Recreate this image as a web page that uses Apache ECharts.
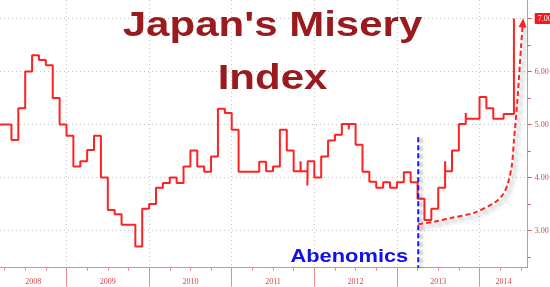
<!DOCTYPE html>
<html><head><meta charset="utf-8">
<script src="https://cdn.jsdelivr.net/npm/echarts@6/dist/echarts.min.js"></script>
<style>html,body{margin:0;padding:0;background:#fff}#c{width:550px;height:287px}</style>
</head><body><div id="c"></div>
<script>
// ---- data ----
const dates = ['2008-03','2008-05','2008-06','2008-07','2008-08','2008-09','2008-10','2008-11','2008-12',
'2009-01','2009-02','2009-03','2009-04','2009-05','2009-06','2009-07','2009-08','2009-09','2009-11','2009-12',
'2010-01','2010-02','2010-03','2010-04','2010-05','2010-06','2010-07','2010-08','2010-09','2010-10','2010-11','2010-12',
'2011-01','2011-02','2011-05','2011-06','2011-07','2011-08','2011-09','2011-10','2011-11','2011-11-02','2011-12','2011-12-02',
'2012-01','2012-02','2012-03','2012-04','2012-05','2012-06','2012-06-02','2012-07','2012-08','2012-09','2012-10','2012-11','2012-12',
'2013-01','2013-02','2013-03','2013-04','2013-05','2013-06','2013-07','2013-08','2013-08-02','2013-09','2013-10','2013-11','2013-11-02',
'2014-01','2014-02','2014-03','2014-04-16','2014-06'];
const values = [5.00,4.71,5.31,6.00,6.31,6.22,6.12,5.50,5.00,
4.79,4.21,4.31,4.52,4.79,4.00,3.39,3.31,3.11,2.70,3.41,
3.50,3.81,3.90,4.00,3.90,4.21,4.51,4.21,4.11,4.40,5.30,5.22,
4.90,4.11,4.30,4.12,4.21,4.90,4.51,4.12,4.31,4.12,3.85,4.31,
4.00,4.40,4.70,4.81,5.01,4.91,5.01,4.62,4.11,3.92,3.81,3.91,3.81,
3.91,4.10,3.91,3.60,3.20,3.41,3.81,4.31,4.12,4.51,5.01,5.22,5.11,
5.52,5.31,5.11,5.20,7.00];
const yearLabels = ['2008','2009','2010','2011','2012','2013','2014'];
const yTickValues = [3, 4, 5, 6, 7];
// hand-drawn annotation arrow (months since Jan 2008, index value)
const arrowMonths = [63.1, 65.5, 67.9, 71.3, 74.2, 75.4, 76.1, 76.7, 77.0, 77.5, 78.05, 78.3];
const arrowValues = [3.12, 3.17, 3.24, 3.34, 3.53, 3.68, 3.88, 4.23, 4.70, 5.46, 6.50, 6.92];
const abenomicsDate = '2013-04-04';
const abenomicsTop = 4.76;
const titleLines = ["Japan's Misery", 'Index'];

// ---- helpers ----
const BASE_YEAR = 2008;
function toM(s){ const p = s.split('-').map(Number); return (p[0]-BASE_YEAR)*12 + (p[1]-1) + (p[2] ? (p[2]-1)/30 : 0); }
const X_MIN = 2.34, X_MAX = 79, Y_MIN = 2.3, Y_MAX = 7.35;
const yearStarts = yearLabels.slice(1).map((y,i)=> (i+1)*12);
const yearLabelPos = yearLabels.map((y,i)=> (Math.max(i*12, X_MIN) + Math.min((i+1)*12, X_MAX))/2);
const quarterTicks = []; for (let q = 3; q < X_MAX; q += 3) if (q % 12 && q > X_MIN) quarterTicks.push(q);
const halfTicks = yTickValues.map(v => v - 0.5).filter(v => v > Y_MIN);
const abM = toM(abenomicsDate);

const RED = '#ff2222', AXIS = '#e68c8c', LBL = '#d4474b', GRIDC = '#c4c4c4';
const chart = echarts.init(document.getElementById('c'), null, {renderer:'canvas'});
const arrowData = arrowMonths.map((m,i)=> i === arrowMonths.length-1
  ? {value:[m, arrowValues[i]], symbol:'triangle', symbolSize:[8,9], symbolRotate:-5, itemStyle:{color:RED}}
  : [m, arrowValues[i]]);

chart.setOption({
  animation:false,
  backgroundColor:'#fff',
  grid:{left:0, right:22.3, top:0, bottom:19.3, containLabel:false, outerBoundsMode:'none'},
  xAxis:[{
    type:'value', min:X_MIN, max:X_MAX, position:'bottom',
    axisLine:{show:true, onZero:false, lineStyle:{color:AXIS, width:1}},
    axisTick:{show:true, customValues:yearStarts, length:19, lineStyle:{color:AXIS}},
    axisLabel:{show:true, customValues:yearLabelPos, formatter:v=> yearLabels[Math.floor(v/12)],
      color:LBL, fontFamily:'Liberation Serif', fontSize:8, margin:10},
    splitLine:{show:true, lineStyle:{color:GRIDC, type:[1,3], width:1}}
  },{
    type:'value', min:X_MIN, max:X_MAX, position:'bottom',
    axisLine:{show:false}, axisLabel:{show:false}, splitLine:{show:false},
    axisTick:{show:true, customValues:quarterTicks, length:3, lineStyle:{color:AXIS}}
  }],
  yAxis:[{
    type:'value', min:Y_MIN, max:Y_MAX, position:'right',
    axisLine:{show:true, lineStyle:{color:AXIS}},
    axisTick:{show:true, customValues:yTickValues, length:4, lineStyle:{color:'#e05555'}},
    axisLabel:{show:true, customValues:yTickValues, margin:7, color:LBL, fontFamily:'Liberation Serif', fontSize:8,
      formatter:v=> v === values[values.length-1] ? '{tag|'+v.toFixed(2)+'}' : v.toFixed(2),
      rich:{tag:{backgroundColor:'#f01c1c', color:'#fff', padding:[2,2,1,3], borderRadius:1, fontFamily:'Liberation Serif', fontSize:8}}},
    splitLine:{show:true, lineStyle:{color:GRIDC, type:[1,3], width:1}}
  },{
    type:'value', min:Y_MIN, max:Y_MAX, position:'right',
    axisLine:{show:false}, axisLabel:{show:false}, splitLine:{show:false},
    axisTick:{show:true, customValues:halfTicks, length:3, lineStyle:{color:'#e05555'}}
  }],
  series:[{
    name:'Misery Index', type:'line', step:'end', symbol:'none',
    data: dates.map((d,i)=>[toM(d), values[i]]),
    lineStyle:{color:RED, width:2}, z:3
  },{
    name:'Abenomics', type:'line', symbol:'none',
    data:[[abM, abenomicsTop],[abM, Y_MIN]],
    lineStyle:{color:'#1818f0', width:2, type:[5,3], shadowColor:'rgba(0,0,0,0.35)', shadowBlur:3, shadowOffsetX:3, shadowOffsetY:1}, z:4
  },{
    name:'Trend', type:'line', smooth:0.3, symbol:'circle', symbolSize:0, showSymbol:true,
    data: arrowData,
    itemStyle:{color:RED},
    lineStyle:{color:RED, width:2, type:[5,3], shadowColor:'rgba(0,0,0,0.4)', shadowBlur:4, shadowOffsetX:3, shadowOffsetY:3}, z:5
  }]
});

const ab = chart.convertToPixel({xAxisIndex:0, yAxisIndex:0}, [abM, Y_MIN]);
chart.setOption({
  graphic:[
    {type:'text', x:272.5, y:26, scaleX:1.2, z:10,
      style:{text:titleLines[0], x:0, y:0, align:'center', verticalAlign:'middle', fill:'#9a1b1e', font:'bold 35px "Liberation Sans", Arial, sans-serif'}},
    {type:'text', x:272.5, y:79, scaleX:1.2, z:10,
      style:{text:titleLines[1], x:0, y:0, align:'center', verticalAlign:'middle', fill:'#9a1b1e', font:'bold 35px "Liberation Sans", Arial, sans-serif'}},
    {type:'text', x:ab[0]-10, y:ab[1]-11, scaleX:1.15, z:10,
      style:{text:'Abenomics', x:0, y:0, align:'right', verticalAlign:'middle', fill:'#1010ee', font:'bold 19px "Liberation Sans", Arial, sans-serif'}}
  ]
});
</script></body></html>
